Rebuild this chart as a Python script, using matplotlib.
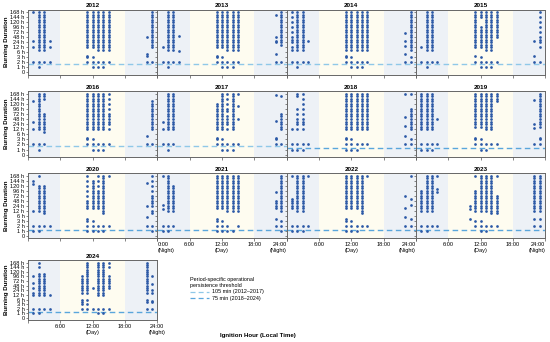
import numpy as np
import matplotlib.pyplot as plt
from matplotlib.lines import Line2D

plt.rcParams['font.family'] = ['Liberation Sans', 'DejaVu Sans']

# Escala do eixo y (duração em horas -> posição categórica)
y_ticks_h = [0, 1, 2, 3, 6, 12, 24, 48, 72, 96, 120, 144, 168]
y_labels = ['0', '1 h', '2 h', '3 h', '6 h', '12 h', '24 h', '48 h', '72 h', '96 h', '120 h', '144 h', '168 h']

x_ticks = [0, 6, 12, 18, 24]
x_labels = ['0:00\n(Night)', '6:00', '12:00\n(Day)', '18:00', '24:00\n(Night)']

years = [2012, 2013, 2014, 2015, 2016, 2017, 2018, 2019, 2020, 2021, 2022, 2023, 2024]

# Limiar operacional (min)
thr_old = 105   # 2012-2017
thr_new = 75    # 2018-2024

# Duração (h) por hora de ignição
d2012 = {
    1: [168, 30, 12, 2],
    2: [168, 156, 144, 132, 120, 108, 96, 84, 72, 60, 48, 36, 24, 18, 12, 9, 2, 1],
    3: [168, 156, 144, 132, 120, 108, 96, 84, 72, 60, 48, 36, 24, 18, 12, 9, 2],
    4: [30, 12, 2],
    11: [168, 156, 144, 132, 120, 108, 96, 84, 72, 60, 48, 36, 24, 18, 12, 4, 3, 2],
    12: [168, 156, 144, 132, 120, 108, 96, 84, 72, 60, 48, 36, 24, 18, 12, 3, 2, 1],
    13: [168, 156, 144, 132, 120, 108, 96, 84, 72, 60, 48, 36, 24, 18, 12, 9, 2, 1],
    14: [168, 156, 144, 132, 120, 108, 96, 84, 72, 60, 48, 36, 24, 18, 12, 9, 2, 1],
    15: [168, 156, 144, 132, 120, 108, 96, 84, 72, 60, 48, 36, 24, 18, 12, 9, 2],
    22: [48, 5, 3.5, 2],
    23: [168, 156, 144, 132, 120, 108, 96, 84, 72, 60, 48, 36, 24, 18, 12, 2],
}
d2013 = {
    1: [12, 2],
    2: [168, 156, 144, 132, 120, 108, 96, 84, 72, 60, 48, 36, 24, 18, 12, 9, 2, 1],
    3: [168, 156, 144, 132, 120, 108, 96, 84, 72, 60, 48, 36, 24, 18, 12, 9, 2],
    4: [56, 8, 2],
    11: [168, 156, 144, 132, 120, 108, 96, 84, 72, 60, 48, 36, 24, 18, 12, 4, 3, 2],
    12: [168, 156, 144, 132, 120, 108, 96, 84, 72, 60, 48, 36, 24, 18, 12, 3, 2, 1],
    13: [168, 156, 144, 132, 120, 108, 96, 84, 72, 60, 48, 36, 24, 18, 12, 9, 2, 1],
    14: [168, 156, 144, 132, 120, 108, 96, 84, 72, 60, 48, 36, 24, 18, 12, 9, 2, 1],
    15: [168, 156, 144, 132, 120, 108, 96, 84, 72, 60, 48, 36, 24, 18, 12, 9, 2],
    22: [156, 48, 30, 24, 5, 2],
    23: [168, 156, 144, 132, 120, 108, 96, 84, 72, 60, 48, 36, 24, 18, 2],
}
d2014 = {
    1: [168, 144, 120, 96, 72, 48, 36, 24, 12, 9, 2],
    2: [168, 156, 144, 132, 120, 108, 96, 84, 72, 60, 48, 36, 24, 18, 12, 9, 2, 1],
    3: [168, 156, 144, 132, 120, 108, 96, 84, 72, 60, 48, 36, 24, 18, 12, 9, 2],
    4: [30, 2],
    11: [168, 156, 144, 132, 120, 108, 96, 84, 72, 60, 48, 36, 24, 18, 12, 9, 4, 3, 2],
    12: [168, 156, 144, 132, 120, 108, 96, 84, 72, 60, 48, 36, 24, 18, 12, 9, 3, 2, 1],
    13: [168, 156, 144, 132, 120, 108, 96, 84, 72, 60, 48, 36, 24, 18, 12, 9, 2, 1],
    14: [168, 156, 144, 132, 120, 108, 96, 84, 72, 60, 48, 36, 24, 18, 12, 9, 2, 1],
    15: [168, 156, 144, 132, 120, 108, 96, 84, 72, 60, 48, 36, 24, 18, 12, 9, 2],
    22: [66, 30, 15, 5, 2],
    23: [168, 156, 144, 132, 120, 108, 96, 84, 72, 60, 48, 36, 24, 18, 12, 9, 3, 2],
}
d2015 = {
    1: [12, 2],
    2: [168, 156, 144, 132, 120, 108, 96, 84, 72, 60, 48, 36, 24, 18, 12, 9, 2, 1],
    3: [168, 156, 144, 132, 120, 108, 96, 84, 72, 60, 48, 36, 24, 18, 12, 9, 2],
    4: [2],
    11: [168, 156, 144, 132, 120, 108, 96, 84, 72, 60, 48, 36, 24, 18, 12, 3.5, 2],
    12: [168, 156, 144, 96, 84, 72, 60, 48, 36, 24, 18, 12, 3, 2, 1],
    13: [168, 156, 144, 132, 120, 108, 96, 84, 72, 60, 48, 36, 24, 18, 12, 9, 2, 1],
    14: [168, 156, 144, 132, 120, 108, 96, 84, 72, 60, 48, 36, 24, 18, 12, 9, 2, 1],
    15: [168, 156, 144, 132, 120, 108, 96, 84, 72, 60, 48, 2],
    22: [30, 3.5, 2],
    23: [168, 144, 120, 96, 72, 48, 36, 24, 12, 2],
}
d2016 = {
    1: [132, 36, 12, 2],
    2: [168, 156, 144, 132, 120, 108, 96, 84, 72, 60, 48, 36, 24, 18, 12, 2, 1],
    3: [168, 156, 144, 72, 60, 48, 36, 24, 18, 12, 9, 2],
    11: [168, 156, 144, 132, 120, 108, 96, 84, 72, 60, 48, 36, 24, 18, 12, 4, 3, 2],
    12: [168, 156, 144, 132, 120, 108, 96, 84, 72, 60, 48, 36, 24, 18, 12, 3, 2, 1],
    13: [168, 156, 144, 132, 120, 108, 96, 84, 72, 60, 48, 36, 24, 18, 12, 2, 1],
    14: [168, 156, 144, 132, 120, 108, 96, 84, 72, 60, 48, 36, 24, 18, 12, 2, 1],
    15: [168, 144, 120, 96, 72, 60, 48, 36, 24, 12, 2],
    22: [5, 2],
    23: [132, 120, 108, 96, 84, 72, 60, 48, 36, 24, 18, 12, 2],
}
d2017 = {
    1: [36, 12, 2],
    2: [168, 156, 144, 132, 120, 108, 96, 84, 72, 60, 48, 36, 24, 18, 12, 2, 1],
    3: [168, 156, 144, 132, 120, 108, 96, 84, 72, 60, 48, 36, 24, 18, 12, 2],
    11: [120, 108, 96, 84, 72, 60, 48, 36, 24, 18, 12, 4, 3, 2],
    12: [168, 156, 144, 132, 120, 108, 96, 84, 72, 60, 48, 36, 24, 18, 12, 3, 2, 1],
    13: [168, 144, 120, 96, 84, 60, 48, 36, 24, 12, 2, 1],
    14: [168, 156, 144, 132, 120, 108, 96, 84, 72, 60, 48, 36, 24, 18, 12, 2, 1],
    15: [168, 108, 48, 2],
    22: [160, 40, 4, 3, 2],
    23: [156, 72, 60, 48, 36, 24, 18, 12, 2],
}
d2018 = {
    1: [12, 2, 1],
    2: [168, 156, 96, 72, 48, 36, 24, 12, 2, 1],
    3: [168, 144, 120, 96, 72, 48, 36, 24, 12, 2, 1],
    4: [2],
    11: [168, 156, 144, 132, 120, 108, 96, 84, 72, 60, 48, 36, 24, 18, 12, 4, 3, 2, 1],
    12: [168, 156, 144, 132, 120, 108, 96, 84, 72, 60, 48, 36, 24, 18, 12, 3, 2, 1],
    13: [168, 156, 144, 132, 120, 108, 96, 84, 72, 60, 48, 36, 24, 18, 12, 2, 1],
    14: [168, 156, 144, 132, 120, 108, 96, 84, 72, 60, 48, 36, 24, 18, 12, 2],
    15: [168, 156, 144, 132, 120, 108, 96, 84, 72, 60, 48, 36, 24, 18, 12, 2],
    22: [168, 56, 20, 5, 2],
    23: [168, 96, 84, 72, 60, 48, 36, 24, 18, 12, 3, 2],
}
d2019 = {
    1: [168, 156, 144, 132, 120, 108, 96, 84, 72, 60, 48, 36, 24, 18, 12, 2, 1],
    2: [168, 156, 144, 132, 120, 108, 96, 84, 72, 60, 48, 36, 24, 18, 12, 2, 1],
    3: [168, 156, 144, 132, 120, 108, 96, 84, 72, 60, 48, 36, 24, 18, 12, 2, 1],
    4: [48, 2],
    11: [168, 156, 144, 132, 120, 108, 96, 84, 72, 60, 48, 36, 24, 18, 4, 3, 2],
    12: [168, 156, 144, 132, 120, 108, 96, 84, 72, 60, 48, 36, 24, 18, 3, 2, 1],
    13: [168, 156, 144, 132, 120, 108, 96, 84, 72, 60, 48, 36, 24, 18, 12, 2, 1],
    14: [168, 156, 144, 132, 120, 108, 96, 84, 72, 60, 48, 36, 24, 18, 12, 2],
    15: [168, 156, 144, 132, 2],
    22: [136, 26, 16, 2],
    23: [168, 156, 144, 132, 120, 108, 96, 84, 72, 60, 48, 36, 24, 18, 4, 3, 2],
}
d2020 = {
    1: [144, 128, 12, 2, 1],
    2: [168, 120, 108, 96, 84, 72, 60, 48, 36, 24, 18, 12, 2, 1],
    3: [120, 108, 96, 84, 72, 60, 48, 36, 24, 18, 12, 9, 2],
    4: [2],
    11: [168, 144, 120, 96, 72, 48, 36, 24, 18, 4, 3, 2, 1],
    12: [144, 132, 120, 108, 96, 84, 72, 60, 48, 36, 24, 18, 3, 2, 1],
    13: [168, 144, 120, 96, 84, 72, 60, 48, 36, 24, 18, 2, 1],
    14: [168, 156, 144, 132, 120, 108, 96, 84, 72, 60, 48, 36, 24, 18, 12, 9, 2, 1],
    15: [168, 2],
    22: [132, 24, 5, 2],
    23: [168, 144, 120, 96, 72, 60, 48, 36, 24, 12, 9, 2, 1],
}
d2021 = {
    1: [168, 26, 16, 2, 1],
    2: [168, 156, 144, 132, 120, 108, 96, 84, 72, 60, 48, 36, 24, 18, 12, 2, 1],
    3: [120, 108, 96, 84, 72, 60, 48, 36, 24, 18, 12, 2],
    11: [168, 156, 144, 132, 120, 108, 96, 84, 72, 60, 48, 36, 24, 18, 4, 3, 2, 1],
    12: [168, 156, 144, 132, 120, 108, 96, 84, 72, 60, 48, 36, 24, 18, 3, 2, 1],
    13: [168, 156, 144, 132, 120, 108, 96, 84, 72, 60, 48, 36, 24, 18, 12, 2, 1],
    14: [168, 156, 144, 132, 120, 108, 96, 84, 72, 60, 48, 36, 24, 18, 12, 1],
    15: [168, 156, 144, 132, 120, 108, 96, 84, 72, 60, 48, 36, 24, 18, 12, 2],
    22: [90, 48, 36, 24, 18, 4, 2],
    23: [168, 156, 144, 132, 120, 108, 96, 84, 72, 60, 48, 36, 24, 18, 12, 3, 2, 1],
}
d2022 = {
    1: [168, 56, 48, 36, 24, 18, 2, 1],
    2: [168, 156, 144, 132, 120, 108, 96, 84, 72, 60, 48, 36, 24, 18, 12, 2, 1],
    3: [168, 156, 144, 132, 120, 108, 96, 84, 72, 60, 48, 36, 24, 18, 12, 2, 1],
    4: [168, 2],
    11: [168, 156, 144, 132, 120, 108, 96, 84, 72, 60, 48, 36, 24, 18, 4, 3, 2, 1],
    12: [168, 156, 144, 132, 120, 108, 96, 84, 72, 60, 48, 36, 24, 18, 3, 2, 1],
    13: [168, 156, 144, 132, 120, 108, 96, 84, 72, 60, 48, 36, 24, 18, 2, 1],
    14: [168, 156, 144, 132, 120, 108, 96, 84, 72, 60, 48, 36, 24, 18, 12, 9, 2],
    15: [168, 2],
    22: [72, 18, 5, 2],
    23: [168, 56, 28, 4, 2],
}
d2023 = {
    1: [96, 84, 72, 60, 48, 36, 24, 18, 12, 2, 1],
    2: [168, 156, 144, 132, 120, 108, 96, 84, 72, 60, 48, 36, 24, 18, 12, 2, 1],
    3: [168, 156, 144, 132, 120, 108, 96, 84, 72, 60, 48, 36, 24, 18, 12, 2],
    4: [168, 104, 88, 2],
    10: [24, 16, 4],
    11: [168, 96, 84, 72, 60, 48, 36, 24, 18, 12, 3, 2],
    12: [168, 156, 144, 132, 120, 108, 96, 84, 72, 60, 48, 36, 24, 18, 12, 3, 2, 1],
    13: [168, 156, 144, 132, 120, 108, 96, 84, 72, 60, 48, 36, 24, 18, 12, 2, 1],
    14: [168, 156, 144, 132, 120, 108, 96, 84, 72, 60, 48, 36, 24, 18, 12, 9, 2],
    15: [168, 72, 60, 48, 36, 24, 18, 12, 9, 2],
    22: [168, 156, 144, 132, 120, 108, 96, 84, 72, 60, 48, 36, 24, 18, 12, 4, 2],
    23: [168, 156, 144, 132, 120, 108, 96, 84, 72, 60, 48, 36, 24, 18, 12, 4, 2],
}
d2024 = {
    1: [100, 60, 36, 18, 12, 2, 1],
    2: [168, 144, 108, 96, 84, 72, 60, 48, 36, 24, 18, 12, 2, 1],
    3: [108, 96, 84, 72, 60, 48, 36, 24, 18, 12, 2],
    4: [12, 2],
    10: [96, 84, 72, 60, 48, 36, 24, 18, 6, 4.5, 3, 2],
    11: [168, 156, 144, 132, 120, 108, 96, 84, 72, 60, 48, 36, 24, 18, 6, 3, 2],
    12: [36, 2],
    13: [168, 156, 144, 132, 120, 108, 96, 84, 72, 60, 48, 36, 24, 18, 12, 2, 1],
    14: [168, 156, 144, 132, 120, 108, 96, 84, 72, 60, 48, 36, 24, 18, 12, 2, 1],
    15: [168, 144, 96, 84, 72, 60, 48, 36, 2],
    22: [168, 156, 144, 132, 120, 108, 96, 84, 72, 60, 48, 36, 24, 18, 6, 4.5, 2],
    23: [96, 56, 24, 18, 5, 4.5, 2],
}
dados = [d2012, d2013, d2014, d2015, d2016, d2017, d2018, d2019,
         d2020, d2021, d2022, d2023, d2024]

# Cores
cor_ponto = '#2b58a6'
cor_noite = '#edf1f6'
cor_dia = '#fefcf0'
cor_old = '#8fc8e8'
cor_new = '#5aa6dc'


def to_y(horas):
    return np.interp(horas, y_ticks_h, np.arange(len(y_ticks_h)))


fig = plt.figure(figsize=(5.5, 3.42), dpi=100)

lefts = [0.0509, 0.2860, 0.5211, 0.7562]
largura = 0.2351
bases = [0.782, 0.541, 0.304, 0.064]
alturas = [0.190, 0.193, 0.190, 0.175]

for k, (ano, d) in enumerate(zip(years, dados)):
    lin, col = divmod(k, 4)
    ax = fig.add_axes([lefts[col], bases[lin], largura, alturas[lin]])
    ax.axvspan(0, 6, color=cor_noite, lw=0, zorder=0)
    ax.axvspan(6, 18, color=cor_dia, lw=0, zorder=0)
    ax.axvspan(18, 24, color=cor_noite, lw=0, zorder=0)

    xs, ys = [], []
    for h, durs in d.items():
        xs += [h] * len(durs)
        ys += list(to_y(durs))
    ax.scatter(xs, ys, s=3.8, color=cor_ponto, lw=0, zorder=3)

    if ano <= 2017:
        ax.axhline(to_y(thr_old / 60), color=cor_old, ls=(0, (4, 2.5)), lw=1.0, zorder=2)
    else:
        ax.axhline(to_y(thr_new / 60), color=cor_new, ls=(0, (4, 2.5)), lw=1.0, zorder=2)

    ax.set_xlim(0, 24)
    ax.set_ylim(-0.45, 12.5)
    ax.set_yticks(range(len(y_ticks_h)))
    ax.set_xticks(x_ticks)
    if col == 0:
        ax.set_yticklabels(y_labels)
        fig.text(0.012, bases[lin] + alturas[lin] / 2, 'Burning Duration', rotation=90,
                 ha='center', va='center', fontsize=4.4, fontweight='bold')
    else:
        ax.set_yticklabels([])

    if ano in (2021, 2022, 2023, 2024):
        labs = list(x_labels)
        if ano != 2021:
            labs[0] = ''
        ax.set_xticklabels(labs)
        if ano != 2024:
            ticklabs = ax.get_xticklabels()
            ticklabs[0].set_ha('left')
            ticklabs[-1].set_ha('right')
    else:
        ax.set_xticklabels([])

    ax.tick_params(axis='both', labelsize=4.1, length=1.8, width=0.5, pad=1, color='#555555')
    ax.tick_params(axis='y', pad=0.8)
    for s in ax.spines.values():
        s.set_color('#666666')
        s.set_linewidth(0.7)
    ax.set_title(str(ano), fontsize=4.6, fontweight='bold', pad=1.5)

fig.text(0.469, 0.012, 'Ignition Hour (Local Time)', ha='center', va='bottom',
         fontsize=4.4, fontweight='bold')

handles = [Line2D([], [], color=cor_old, ls=(0, (4, 2.5)), lw=0.9),
           Line2D([], [], color=cor_new, ls=(0, (4, 2.5)), lw=0.9)]
fig.legend(handles, ['105 min (2012\u20132017)', '75 min (2018\u20132024)'],
           title='Period-specific operational\npersistence threshold',
           loc='upper left', bbox_to_anchor=(0.337, 0.205), frameon=False,
           fontsize=3.9, title_fontsize=3.9, alignment='left',
           handlelength=3.5, handletextpad=0.6, labelspacing=0.35)

plt.savefig('out.png', dpi=100)
